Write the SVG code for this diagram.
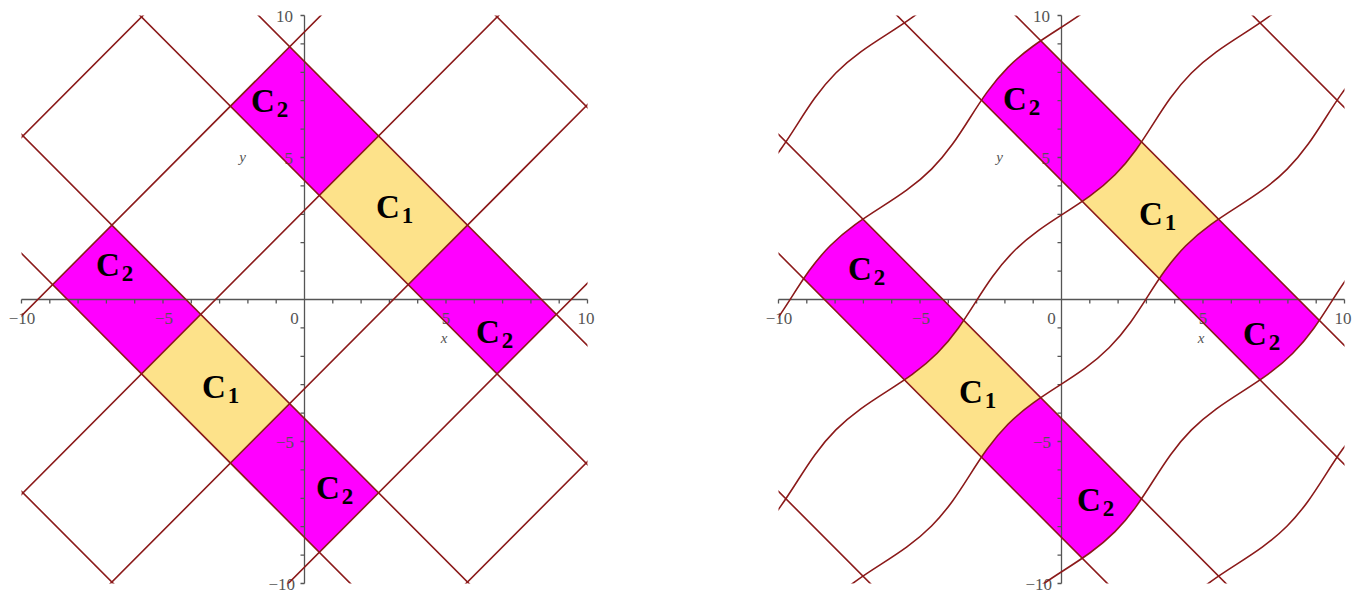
<svg xmlns="http://www.w3.org/2000/svg" xmlns:xlink="http://www.w3.org/1999/xlink" width="1362" height="593" viewBox="0 0 1362 593">
<style>
.ln{fill:none;stroke:#8b1a1a;stroke-width:1.6;vector-effect:non-scaling-stroke}
.ax{fill:none;stroke:#555;stroke-width:1.3}
.tk{font-family:"Liberation Serif","Times New Roman",serif;font-size:17px;fill:#555}
.it{font-style:italic;font-size:15px}
.lab{font-family:"Liberation Serif","Times New Roman",serif;font-weight:bold;font-size:33px;fill:#000}
.sub{font-size:23px}
.c1{fill:#fde28a}
.c2{fill:#ff00ff}
</style>
<defs>
<clipPath id="boxL"><rect x="21.5" y="15.5" width="566" height="568"/></clipPath>
<clipPath id="boxR"><rect x="778.5" y="15.5" width="566" height="568"/></clipPath>
<clipPath id="bands"><rect x="4.18879" y="-30" width="4.18879" height="60"/><rect x="-8.37758" y="-30" width="4.18879" height="60"/></clipPath>
<path id="ulines" class="ln" d="M4.18879,-25V25 M8.37758,-25V25 M16.75516,-25V25 M-4.18879,-25V25 M-8.37758,-25V25 M-16.75516,-25V25"/>
<g id="axes">
<path class="ax" d="M21.5,299.5H587.5 M304.5,15.5V583.5"/>
<path class="ax" d="M21.5,299.5v4M49.8,299.5v4M78.1,299.5v4M106.4,299.5v4M134.7,299.5v4M163,299.5v4M191.3,299.5v4M219.6,299.5v4M247.9,299.5v4M276.2,299.5v4M332.8,299.5v4M361.1,299.5v4M389.4,299.5v4M417.7,299.5v4M446,299.5v4M474.3,299.5v4M502.6,299.5v4M530.9,299.5v4M559.2,299.5v4M587.5,299.5v4
M300.5,15.5h4M300.5,43.9h4M300.5,72.3h4M300.5,100.7h4M300.5,129.1h4M300.5,157.5h4M300.5,185.9h4M300.5,214.3h4M300.5,242.7h4M300.5,271.1h4M300.5,327.9h4M300.5,356.3h4M300.5,384.7h4M300.5,413.1h4M300.5,441.5h4M300.5,469.9h4M300.5,498.3h4M300.5,526.7h4M300.5,555.1h4M300.5,583.5h4"/>
<g class="tk" text-anchor="middle">
<text x="22" y="324">−10</text>
<text x="164" y="324">−5</text>
<text x="294.5" y="324">0</text>
<text x="446" y="324">5</text>
<text x="586" y="324">10</text>
<text class="it" x="444" y="343">x</text>
<text class="it" x="242.5" y="162">y</text>
</g>
<g class="tk" text-anchor="end">
<text x="293" y="21.5">10</text>
<text x="293" y="163.5">5</text>
<text x="294" y="447.5">−5</text>
<text x="295" y="589.5">−10</text>
</g>
</g>
</defs>

<g id="plot-left">
<g id="fills-left" clip-path="url(#boxL)">
<g transform="matrix(14.15,-14.2,14.15,14.2,304.5,299.5)">
<rect class="c2" x="4.18879" y="-9.42478" width="4.18879" height="6.28319"/>
<rect class="c1" x="4.18879" y="-3.14159" width="4.18879" height="6.28318"/>
<rect class="c2" x="4.18879" y="3.14159" width="4.18879" height="6.28319"/>
<rect class="c2" x="-8.37758" y="-9.42478" width="4.18879" height="6.28319"/>
<rect class="c1" x="-8.37758" y="-3.14159" width="4.18879" height="6.28318"/>
<rect class="c2" x="-8.37758" y="3.14159" width="4.18879" height="6.28319"/>
</g>
</g>
<use id="axes-left" href="#axes" xlink:href="#axes"/>
<g id="lines-left" clip-path="url(#boxL)">
<g transform="matrix(14.15,-14.2,14.15,14.2,304.5,299.5)">
<use href="#ulines" xlink:href="#ulines"/>
<path class="ln" d="M-25,-15.70796H25 M-25,-9.42478H25 M-25,-3.14159H25 M-25,3.14159H25 M-25,9.42478H25 M-25,15.70796H25"/>
</g>
</g>
<g id="labels-left" class="lab">
<text x="251" y="112">C<tspan class="sub" dx="2" dy="5">2</tspan></text>
<text x="376" y="218">C<tspan class="sub" dx="2" dy="5">1</tspan></text>
<text x="476" y="343">C<tspan class="sub" dx="2" dy="5">2</tspan></text>
<text x="96" y="276">C<tspan class="sub" dx="2" dy="5">2</tspan></text>
<text x="202" y="398">C<tspan class="sub" dx="2" dy="5">1</tspan></text>
<text x="316" y="499">C<tspan class="sub" dx="2" dy="5">2</tspan></text>
</g>
</g>

<g id="plot-right">
<g id="fills-right" clip-path="url(#boxR)">
<g transform="matrix(14.15,-14.2,14.15,14.2,1061.5,299.5)">
<g clip-path="url(#bands)">
<path class="c2" d="M-12.566,-9.185 C-10.278,-9.185 -8.571,-10.065 -6.283,-10.065 C-3.995,-10.065 -2.288,-9.185 0,-9.185 C2.288,-9.185 3.995,-10.065 6.283,-10.065 C8.571,-10.065 10.278,-9.185 12.566,-9.185 L12.566,-3.382 C10.278,-3.382 8.571,-2.502 6.283,-2.502 C3.995,-2.502 2.288,-3.382 0,-3.382 C-2.288,-3.382 -3.995,-2.502 -6.283,-2.502 C-8.571,-2.502 -10.278,-3.382 -12.566,-3.382 Z"/>
<path class="c1" d="M-12.566,-3.382 C-10.278,-3.382 -8.571,-2.502 -6.283,-2.502 C-3.995,-2.502 -2.288,-3.382 0,-3.382 C2.288,-3.382 3.995,-2.502 6.283,-2.502 C8.571,-2.502 10.278,-3.382 12.566,-3.382 L12.566,3.382 C10.278,3.382 8.571,2.502 6.283,2.502 C3.995,2.502 2.288,3.382 0,3.382 C-2.288,3.382 -3.995,2.502 -6.283,2.502 C-8.571,2.502 -10.278,3.382 -12.566,3.382 Z"/>
<path class="c2" d="M-12.566,3.382 C-10.278,3.382 -8.571,2.502 -6.283,2.502 C-3.995,2.502 -2.288,3.382 0,3.382 C2.288,3.382 3.995,2.502 6.283,2.502 C8.571,2.502 10.278,3.382 12.566,3.382 L12.566,9.185 C10.278,9.185 8.571,10.065 6.283,10.065 C3.995,10.065 2.288,9.185 0,9.185 C-2.288,9.185 -3.995,10.065 -6.283,10.065 C-8.571,10.065 -10.278,9.185 -12.566,9.185 Z"/>
</g>
</g>
</g>
<use id="axes-right" href="#axes" xlink:href="#axes" transform="translate(757,0)"/>
<g id="lines-right" clip-path="url(#boxR)">
<g transform="matrix(14.15,-14.2,14.15,14.2,1061.5,299.5)">
<use href="#ulines" xlink:href="#ulines"/>
<path class="ln" d="M-6.283,-15.068 C-3.995,-15.068 -2.288,-15.948 0,-15.948 C2.288,-15.948 3.995,-15.068 6.283,-15.068"/>
<path class="ln" d="M-12.566,-9.185 C-10.278,-9.185 -8.571,-10.065 -6.283,-10.065 C-3.995,-10.065 -2.288,-9.185 0,-9.185 C2.288,-9.185 3.995,-10.065 6.283,-10.065 C8.571,-10.065 10.278,-9.185 12.566,-9.185"/>
<path class="ln" d="M-18.85,-2.502 C-16.562,-2.502 -14.855,-3.382 -12.566,-3.382 C-10.278,-3.382 -8.571,-2.502 -6.283,-2.502 C-3.995,-2.502 -2.288,-3.382 0,-3.382 C2.288,-3.382 3.995,-2.502 6.283,-2.502 C8.571,-2.502 10.278,-3.382 12.566,-3.382 C14.855,-3.382 16.562,-2.502 18.85,-2.502"/>
<path class="ln" d="M-18.85,2.502 C-16.562,2.502 -14.855,3.382 -12.566,3.382 C-10.278,3.382 -8.571,2.502 -6.283,2.502 C-3.995,2.502 -2.288,3.382 0,3.382 C2.288,3.382 3.995,2.502 6.283,2.502 C8.571,2.502 10.278,3.382 12.566,3.382 C14.855,3.382 16.562,2.502 18.85,2.502"/>
<path class="ln" d="M-12.566,9.185 C-10.278,9.185 -8.571,10.065 -6.283,10.065 C-3.995,10.065 -2.288,9.185 0,9.185 C2.288,9.185 3.995,10.065 6.283,10.065 C8.571,10.065 10.278,9.185 12.566,9.185"/>
<path class="ln" d="M-6.283,15.068 C-3.995,15.068 -2.288,15.948 0,15.948 C2.288,15.948 3.995,15.068 6.283,15.068"/>
</g>
</g>
<g id="labels-right" class="lab">
<text x="1003" y="110">C<tspan class="sub" dx="2" dy="5">2</tspan></text>
<text x="1139" y="225">C<tspan class="sub" dx="2" dy="5">1</tspan></text>
<text x="1243" y="345">C<tspan class="sub" dx="2" dy="5">2</tspan></text>
<text x="848" y="280">C<tspan class="sub" dx="2" dy="5">2</tspan></text>
<text x="959" y="403">C<tspan class="sub" dx="2" dy="5">1</tspan></text>
<text x="1077" y="511">C<tspan class="sub" dx="2" dy="5">2</tspan></text>
</g>
</g>
</svg>
